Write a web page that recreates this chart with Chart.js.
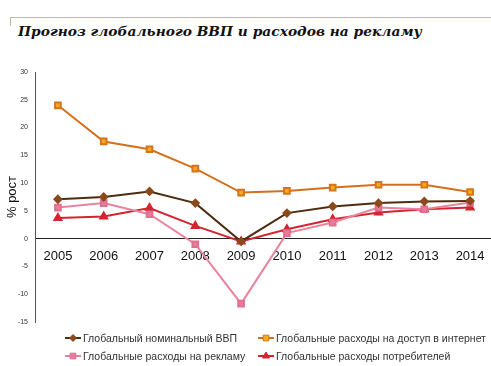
<!DOCTYPE html>
<html lang="ru">
<head>
  <meta charset="UTF-8" />
  <title>Прогноз глобального ВВП</title>
  <style>
    html, body { margin: 0; background: #fff; overflow: hidden; }
    #wrap { position: relative; width: 491px; height: 366px; overflow: hidden; }
    #rule { position: absolute; left: 10px; top: 17px; width: 481px; height: 8px;
            border-top: 1px solid #c8b89a; border-left: 1px solid #c8b89a; }
    #title { position: absolute; left: 18px; top: 23px; font: italic bold 13.8px "DejaVu Serif", serif;
             color: #111; white-space: nowrap; }
    canvas { position: absolute; left: 0; top: 0; }
  </style>
</head>
<body>
  <div id="wrap">
    <div id="rule"></div>
    <div id="title">Прогноз глобального ВВП и расходов на рекламу</div>
    <canvas id="chart" width="499" height="366"></canvas>
  </div>

  <script src="https://cdn.jsdelivr.net/npm/chart.js@4.4.0/dist/chart.umd.min.js"></script>
  <script>
    // данные
    var years = ["2005", "2006", "2007", "2008", "2009", "2010", "2011", "2012", "2013", "2014"];
    var gdp = [7.1, 7.5, 8.5, 6.4, -0.5, 4.6, 5.8, 6.4, 6.7, 6.8];
    var internet = [24.0, 17.5, 16.1, 12.6, 8.3, 8.6, 9.2, 9.7, 9.7, 8.4];
    var ads = [5.6, 6.4, 4.4, -1.0, -11.7, 1.0, 2.9, 5.6, 5.3, 6.5];
    var consumer = [3.7, 4.0, 5.5, 2.3, -0.5, 1.7, 3.5, 4.7, 5.3, 5.6];
    var yTicks = [30, 25, 20, 15, 10, 5, 0, -5, -10, -15];

    // легенда в две колонки, как на оригинале
    var legendPlugin = {
      id: "twoColLegend",
      afterDraw: function (chart) {
        var ctx = chart.ctx;
        var cols = [65, 258];
        var rows = [338, 356];
        ctx.save();
        ctx.font = "10.5px 'Liberation Sans', Arial, sans-serif";
        ctx.textBaseline = "middle";
        chart.data.datasets.forEach(function (ds, i) {
          var x = cols[i % 2], y = rows[Math.floor(i / 2)];
          ctx.strokeStyle = ds.borderColor;
          ctx.lineWidth = 2;
          ctx.beginPath();
          ctx.moveTo(x, y);
          ctx.lineTo(x + 16, y);
          ctx.stroke();
          ctx.fillStyle = ds.pointBackgroundColor;
          ctx.strokeStyle = ds.pointBorderColor;
          ctx.lineWidth = 1;
          Chart.helpers.drawPoint(ctx, { pointStyle: ds.pointStyle, radius: ds.pointRadius, borderWidth: 1 }, x + 8, y);
          ctx.fillStyle = "#333";
          ctx.fillText(ds.label, x + 18, y + 1);
        });
        ctx.restore();
      }
    };

    var ctx = document.getElementById("chart").getContext("2d");
    var myChart = new Chart(ctx, {
      type: "line",
      data: {
        labels: years,
        datasets: [
          {
            label: "Глобальный номинальный ВВП",
            data: gdp,
            borderColor: "#4e2c10",
            pointBackgroundColor: "#8a4a1c",
            pointBorderColor: "#8a4a1c",
            pointStyle: "rectRot",
            pointRadius: 3.5,
            borderWidth: 2,
          },
          {
            label: "Глобальные расходы на доступ в интернет",
            data: internet,
            borderColor: "#d4701c",
            pointBackgroundColor: "#f6aa1e",
            pointBorderColor: "#d4741c",
            pointStyle: "rect",
            pointRadius: 4,
            borderWidth: 2,
          },
          {
            label: "Глобальные расходы на рекламу",
            data: ads,
            borderColor: "#e8849e",
            pointBackgroundColor: "#e87c9c",
            pointBorderColor: "#e07090",
            pointStyle: "rect",
            pointRadius: 4,
            borderWidth: 2,
          },
          {
            label: "Глобальные расходы потребителей",
            data: consumer,
            borderColor: "#d42430",
            pointBackgroundColor: "#d42430",
            pointBorderColor: "#d42430",
            pointStyle: "triangle",
            pointRadius: 4,
            borderWidth: 2,
          },
        ],
      },
      options: {
        responsive: false,
        animation: false,
        clip: false,
        layout: { padding: { top: 72, bottom: 44, left: 5, right: 0 } },
        elements: { line: { tension: 0 }, point: { borderWidth: 1 } },
        plugins: { legend: { display: false }, tooltip: { enabled: false } },
        scales: {
          x: {
            position: { y: 0 },
            offset: true,
            grid: { display: false, offset: true },
            border: { display: true, color: "#222", width: 1 },
            ticks: { color: "#111", font: { size: 13, family: "'Liberation Sans', Arial" }, padding: 2, maxRotation: 0 },
          },
          y: {
            min: -15,
            max: 30,
            afterBuildTicks: function (s) { s.ticks = yTicks.map(function (v) { return { value: v }; }); },
            afterFit: function (s) { s.width = 30; },
            grid: { display: false, drawTicks: false },
            border: { display: true, color: "#555", width: 1 },
            ticks: { color: "#333", font: { size: 7, family: "'Liberation Sans', Arial" }, padding: 7 },
            title: { display: true, text: "% рост", color: "#111", font: { size: 13, family: "'Liberation Sans', Arial" }, padding: 0 },
          },
        },
      },
      plugins: [legendPlugin],
    });
  </script>
</body>
</html>
